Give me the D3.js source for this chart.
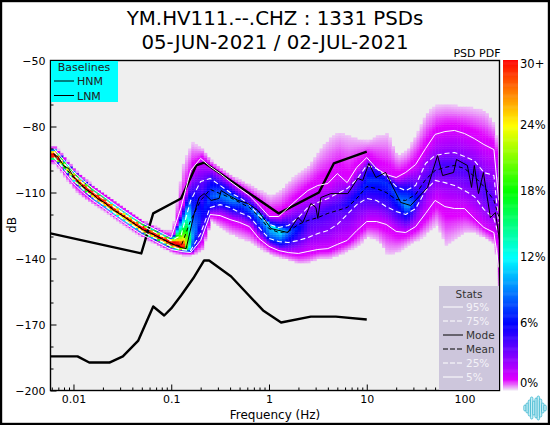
<!DOCTYPE html>
<html><head><meta charset="utf-8">
<script src="https://d3js.org/d3.v7.min.js"></script>
<style>html,body{margin:0;padding:0;background:#fff}svg{display:block}text{font-family:"DejaVu Sans",sans-serif}</style>
</head><body><svg id="c" width="550" height="425"></svg>
<script>
const titleLines=["YM.HV111.--.CHZ : 1331 PSDs","05-JUN-2021 / 02-JUL-2021"];
const yMajor=[-50,-80,-110,-140,-170,-200];
const yMinor=[-60,-70,-90,-100,-120,-130,-150,-160,-180,-190];
const xMajor=[0.01,0.1,1,10,100];
const xMajorLabels=["0.01","0.1","1","10","100"];
const xMinor=[0.006,0.007,0.008,0.009,0.02,0.03,0.04,0.05,0.06,0.07,0.08,0.09,0.2,0.3,0.4,0.5,0.6,0.7,0.8,0.9,2,3,4,5,6,7,8,9,20,30,40,50,60,70,80,90,200];
const cbTicks=[0,6,12,18,24,30];
const cbLabels=["0%","6%","12%","18%","24%","30+"];
const statNames=["95%","75%","Mode","Mean","25%","5%"];

const freqs=[.00631,.0079,.01,.0126,.0158,.02,.025,.0316,.04,.05,.063,.079,.1,.126,.158,.2,.25,.316,.4,.5,.63,.79,1,1.26,1.58,2,2.5,3.16,4,5,6.3,7.9,10,12.6,15.8,20,25,31.6,40,50,63,79,100,126,158,200,224];
const p95=[-90,-95,-100.5,-104.6,-108.2,-111.4,-114.6,-117.8,-120.9,-123.7,-125.9,-128.2,-130.5,-116.8,-100,-94.5,-98.2,-101.4,-105,-108.2,-111.4,-115.9,-120.9,-120.9,-116.8,-112.7,-109.1,-106.8,-105.9,-101.4,-105.5,-98.6,-94.1,-99.1,-101.8,-103.2,-100.9,-97.3,-90,-83.6,-82.3,-81.8,-83.2,-85.5,-88.2,-90.5,-113.6];
const p75=[-91.4,-96.4,-101.9,-106,-109.6,-112.8,-116,-119.2,-122.3,-125.1,-127.3,-129.6,-131.9,-129.5,-113.6,-105,-103.6,-106.8,-110,-112.3,-115.5,-120.5,-124.5,-125.9,-125,-121.4,-116.8,-114.5,-112.7,-110.5,-108.2,-104.1,-97.7,-99.1,-102.7,-107.3,-109.1,-106.8,-96.8,-93.2,-92.3,-91.8,-93.6,-95.5,-100.9,-102.3,-124.1];
const mean=[-92.7,-97.7,-103.2,-107.3,-110.9,-114.1,-117.3,-120.5,-123.6,-126.4,-128.6,-130.9,-133.2,-134.5,-122.7,-113.6,-108.6,-110.5,-112.3,-114.5,-116.8,-120.9,-126.4,-128.2,-127.7,-124.5,-122.7,-121.4,-119.5,-118.2,-116.8,-112.7,-107.3,-108.2,-110,-113.2,-113.6,-110.9,-104.1,-100,-98.6,-97.7,-99.1,-102.7,-107.3,-113.6,-120.9];
const p25=[-94,-99,-104.5,-108.6,-112.2,-115.4,-118.6,-121.8,-124.9,-127.7,-129.9,-132.2,-134.5,-135.9,-136.4,-128.6,-116.8,-115.5,-116.8,-119.1,-120.9,-125.9,-130.9,-132.3,-132.7,-131.8,-130.5,-128.6,-127.3,-124.5,-120,-115.5,-112.7,-113.6,-116.4,-118.6,-120,-117.3,-109.1,-104.5,-105.5,-106.8,-109.1,-111.8,-117.7,-121.8,-129.5];
const p5=[-95.4,-100.4,-105.9,-110,-113.6,-116.8,-120,-123.2,-126.3,-129.1,-131.3,-133.6,-135.9,-136.8,-137.3,-131.8,-120,-120.5,-122.3,-123.6,-125.5,-130.9,-134.5,-136.4,-137.3,-137.7,-136.8,-135.9,-135.5,-133.6,-131.8,-127.3,-123.2,-123.2,-124.5,-127.7,-128.2,-125.5,-119.5,-113.6,-116.4,-117.3,-117.3,-121.8,-125.9,-128.2,-144.1];
const densityTop=[-89,-94,-99.5,-103.6,-107.2,-110.4,-113.6,-116.8,-119.9,-122.7,-124.9,-127.2,-127,-97.7,-87.3,-90,-95.5,-99.1,-102.3,-104.5,-106.8,-109.1,-111.4,-109.1,-104.5,-100.9,-97.7,-90.9,-85.5,-82.7,-84.1,-85.5,-86.4,-84.1,-83.2,-93.2,-90.9,-83.2,-73.6,-70.5,-70,-70.5,-70.9,-71.8,-72.7,-79.5,-109.1];
const densityBottom=[-96.9,-103,-109,-113,-115.5,-118.3,-121.5,-124.7,-127.8,-130.6,-132.8,-135.1,-137.4,-138.6,-138.6,-136.4,-122.7,-126.4,-129.1,-130.9,-132.7,-135.5,-138.2,-139.5,-140.9,-142.3,-141.8,-140,-140,-138.6,-136.4,-134.1,-130,-131.8,-138.2,-137.3,-134.1,-131.8,-128.6,-124.5,-134.1,-130.9,-128.2,-128.2,-130.9,-134.1,-159.1];
const ridge=[-92.7,-97.7,-103.2,-107.3,-110.9,-114.1,-117.3,-120.5,-123.6,-126.4,-128.6,-130.9,-133.2,-134.7,-131,-118.9,-111.4,-111.4,-112.3,-114.5,-116.8,-120,-124.5,-127.3,-127.7,-125.5,-121.8,-120,-117.3,-115.9,-115,-110.9,-104.5,-104.5,-105.5,-111.4,-116.8,-113.2,-105.5,-97.7,-97.7,-97.7,-97.7,-101.4,-109.1,-115.9,-122.7];
const peak=[38,24,34,34,38,38,36,34,36,38,36,36,38,32,10,6,8,9,10,8,9,10,12,12,8,6,4.5,4.5,4.5,4.5,5.5,6,7,7,7,8,10,6,4.5,4.5,4.5,4.5,4.5,4.5,4.5,4,1];

const modeF=[.00625,.00703,.0079,.0089,.01,.01265,.016,.018,.0207,.025,.0316,.04,.0506,.0625,.079,.1,.1265,.142,.172,.193,.217,.256,.309,.324,.391,.483,.61,.773,1.05,1.56,1.98,2.22,2.68,3.02,3.16,3.39,4.29,6.4,8.1,9.1,10.5,12.4,15.6,22.2,28.1,41.9,53,59.7,77.3,82.8,107,118,126,139,156,184,207,228];
const modeV=[-92.3,-94.1,-97.7,-99.1,-102.7,-107.7,-110.9,-113.2,-114.5,-117.7,-120.5,-123.6,-126.8,-128.6,-130.9,-133.2,-135,-135.5,-119.5,-112.3,-110.5,-113.6,-112.7,-109.1,-111.4,-113.6,-115,-118.2,-126.4,-128.2,-121.4,-123.6,-115,-116.8,-121.8,-112.3,-110.5,-110.5,-103.6,-104.5,-96.8,-103.2,-100.9,-114.5,-115.9,-107.7,-93.2,-102.3,-100.9,-95,-97.7,-107.7,-97.7,-110.5,-100.9,-121.4,-119.1,-131.8];
const hnmF=[.00582,.0494,.0654,.126,.18,.217,1.26,3.24,4.6,10];
const hnmV=[-128.6,-137.7,-119.5,-112.7,-97.7,-96.4,-119.5,-110,-96.8,-91.4];
const lnmF=[.00582,.011,.0145,.0233,.032,.046,.0654,.0847,.1,.126,.168,.217,.244,.41,.87,1.33,2.68,4.83,10];
const lnmV=[-184.5,-184.5,-187.3,-187.3,-184.5,-177.3,-161.8,-165.9,-162.7,-156.8,-149,-140.9,-140.9,-148.2,-163.6,-169.1,-166.4,-166.4,-167.7];
const logoBars=[6,10,16,22,14,20,24,18,10,6];

const svg=d3.select("#c");
const M={l:50.5,r:499.5,t:60.5,b:390.5};
const x=d3.scaleLog().domain([0.00582,228]).range([M.l,M.r]);
const y=d3.scaleLinear().domain([-200,-50]).range([M.b,M.t]);
const cbY=d3.scaleLinear().domain([0,30]).range([390,60]);
const color=d3.scaleLinear().domain([0,0.9,6,12,18,24,30])
  .range(["#f0e2f6","#e000ff","#0000ff","#00ffff","#00ff00","#ffff00","#ff0000"]).clamp(true);

svg.append("rect").attr("width",550).attr("height",425).attr("fill","#fff");
svg.append("rect").attr("x",M.l).attr("y",M.t).attr("width",M.r-M.l).attr("height",M.b-M.t).attr("fill","#efefef");

// PDF cells
const lf=freqs.map(Math.log10);
const interp=(arr,l)=>{
  const i=Math.max(1,Math.min(lf.length-1,d3.bisectLeft(lf,l)));
  const t=Math.max(0,Math.min(1,(l-lf[i-1])/(lf[i]-lf[i-1])));
  return arr[i-1]+(arr[i]-arr[i-1])*t;
};
const cells=[];
const logStep=0.032;
svg.append("clipPath").attr("id","pa").append("rect").attr("x",M.l).attr("y",M.t).attr("width",M.r-M.l).attr("height",M.b-M.t);
for(let l=Math.log10(0.00582);l<Math.log10(228);l+=logStep){
  const pk=interp(peak,l);
  const nodes=[[interp(densityBottom,l),0.12],[interp(p5,l),1.15],[interp(p25,l),Math.max(1.5,pk*.62)],[interp(ridge,l),pk],[interp(p75,l),Math.max(1.5,pk*.62)],[interp(p95,l),1.15],[interp(densityTop,l),0.12]];
  const lo=Math.floor(nodes[0][0]),hi=Math.ceil(nodes[6][0]);
  const dens=d3.scaleLinear().domain(nodes.map(n=>n[0])).range(nodes.map(n=>n[1]));
  for(let db=lo;db<=hi;db+=1){
    const c=db+0.5;
    if(c<nodes[0][0]||c>nodes[6][0])continue;
    cells.push({l,db,v:dens(c)});
  }
}
svg.append("g").attr("clip-path","url(#pa)").selectAll("rect").data(cells).join("rect")
  .attr("x",d=>x(Math.pow(10,d.l))).attr("y",d=>y(d.db+1))
  .attr("width",d=>x(Math.pow(10,d.l+logStep))-x(Math.pow(10,d.l))+.4)
  .attr("height",d=>y(d.db)-y(d.db+1)+.4).attr("fill",d=>color(d.v));

const lineOf=(fs,vs)=>d3.line().x((d,i)=>x(fs[i])).y(d=>y(d))(vs);
const plot=svg.append("g").attr("clip-path","url(#pa)");
const draw=(fs,vs,stroke,w,dash)=>plot.append("path").attr("d",lineOf(fs,vs)).attr("fill","none").attr("stroke",stroke).attr("stroke-width",w).attr("stroke-dasharray",dash||null).attr("stroke-linejoin","round");
draw(hnmF,hnmV,"#000",2.4);
draw(lnmF,lnmV,"#000",2.4);
draw(freqs,p95,"#fff",1);
draw(freqs,p5,"#fff",1);
draw(freqs,p75,"#fff",1.1,"5,3");
draw(freqs,p25,"#fff",1.1,"5,3");
draw(freqs,mean,"#000",1,"4,3");
draw(modeF,modeV,"#000",1);

// axes
const xAx=d3.axisBottom(x).tickValues(xMajor).tickSize(-6).tickPadding(5).tickFormat((d,i)=>xMajorLabels[i]);
const xAxMin=d3.axisBottom(x).tickValues(xMinor.filter(f=>f>=x.domain()[0]&&f<=x.domain()[1])).tickSize(-3).tickFormat("");
const yAx=d3.axisLeft(y).tickValues(yMajor).tickSize(-6).tickPadding(5).tickFormat(d3.format("d"));
const yAxMin=d3.axisLeft(y).tickValues(yMinor).tickSize(-3).tickFormat("");
const ax=(a,tr)=>{const g=svg.append("g").attr("transform",tr).call(a);g.select(".domain").remove();g.selectAll("text").attr("font-size",11).attr("fill","#000").attr("font-family",'"DejaVu Sans"');g.selectAll("line").attr("stroke","#000");return g;};
ax(xAx,`translate(0,${M.b})`);ax(xAxMin,`translate(0,${M.b})`);
ax(yAx,`translate(${M.l},0)`);ax(yAxMin,`translate(${M.l},0)`);
svg.append("rect").attr("x",M.l).attr("y",M.t).attr("width",M.r-M.l).attr("height",M.b-M.t).attr("fill","none").attr("stroke","#000").attr("stroke-width",1.4);

// titles
titleLines.forEach((t,i)=>svg.append("text").attr("x",275).attr("y",25+i*24).attr("text-anchor","middle").attr("font-size",19.8).attr("fill","#000").text(t));
svg.append("text").attr("x",275).attr("y",419).attr("text-anchor","middle").attr("font-size",12).text("Frequency (Hz)");
svg.append("text").attr("transform","translate(16,225) rotate(-90)").attr("text-anchor","middle").attr("font-size",12).text("dB");
svg.append("text").attr("x",477).attr("y",57).attr("text-anchor","middle").attr("font-size",11).text("PSD PDF");

// baselines legend
const lg=svg.append("g");
lg.append("rect").attr("x",51).attr("y",61).attr("width",67).attr("height",41).attr("fill","#00ffff");
lg.append("text").attr("x",84).attr("y",71).attr("text-anchor","middle").attr("font-size",11).attr("fill","#222").text("Baselines");
["HNM","LNM"].forEach((t,i)=>{const yy=81+i*14.5;
  lg.append("line").attr("x1",54).attr("x2",74).attr("y1",yy).attr("y2",yy).attr("stroke","#000");
  lg.append("text").attr("x",77).attr("y",yy+4).attr("font-size",11).attr("fill","#222").text(t);});

// stats legend
const sg=svg.append("g");
sg.append("rect").attr("x",439).attr("y",286).attr("width",60).attr("height",104).attr("fill","#cdc6dc");
sg.append("text").attr("x",469).attr("y",298).attr("text-anchor","middle").attr("font-size",10.5).attr("fill","#333").text("Stats");
statNames.forEach((t,i)=>{const yy=307+i*14;const dark=t==="Mode"||t==="Mean";
  const solid=t==="95%"||t==="5%"||t==="Mode";
  sg.append("line").attr("x1",443).attr("x2",463).attr("y1",yy).attr("y2",yy).attr("stroke",dark?"#000":"#fff").attr("stroke-dasharray",solid?null:"5,2");
  sg.append("text").attr("x",466).attr("y",yy+4).attr("font-size",10.5).attr("fill",dark?"#333":"#f4f2f8").text(t);});

// colour bar
const cb=d3.range(0,30,0.1);
svg.append("g").selectAll("rect").data(cb).join("rect").attr("x",503).attr("width",15)
  .attr("y",d=>cbY(d+0.1)).attr("height",d=>cbY(d)-cbY(d+0.1)+.5).attr("fill",d=>color(d));
cbTicks.forEach((v,i)=>svg.append("text").attr("x",520).attr("y",Math.min(cbY(v)+(v===30?8:v===0?-3:3),387)).attr("font-size",11.5).text(cbLabels[i]));

// logo
const lgX=d3.scaleLinear().domain([0,logoBars.length-1]).range([525,545]);
svg.append("g").selectAll("rect").data(logoBars).join("rect")
  .attr("x",(d,i)=>lgX(i)-1.2).attr("y",d=>408-d/2).attr("width",2.4).attr("height",d=>d).attr("rx",1.2)
  .attr("fill","#c8eef5").attr("stroke","#3fb8d0").attr("stroke-width",.8);

// outer border
svg.append("rect").attr("x",1).attr("y",1).attr("width",548).attr("height",423).attr("fill","none").attr("stroke","#000").attr("stroke-width",2.4);
</script></body></html>
